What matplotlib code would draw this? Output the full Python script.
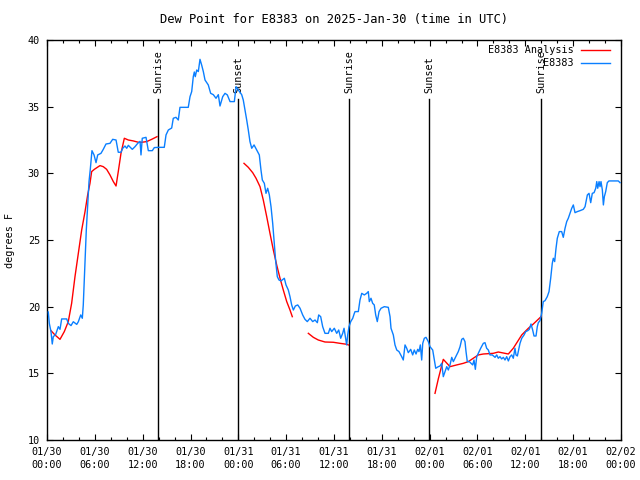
import numpy as np
import matplotlib
matplotlib.use("Agg")
import matplotlib.pyplot as plt

# hours since 2025-01-30 00:00 UTC
obs_hours = [
    0.16, 0.29, 0.50, 0.66, 0.79, 1.09, 1.42, 1.63, 1.84, 2.47, 2.67, 3.01, 3.30, 3.73, 3.93,
    4.23, 4.43, 4.55, 4.68, 4.80, 4.93, 5.11, 5.27, 5.43, 5.64, 5.90, 6.15, 6.36, 6.77, 7.06,
    7.40, 7.90, 8.24, 8.66, 8.94, 9.28, 9.50, 9.78, 10.00, 10.20, 10.45, 10.70, 11.04, 11.38,
    11.67, 11.79, 11.95, 12.42, 12.71, 13.21, 13.46, 13.96, 14.71, 14.93, 15.22, 15.64, 15.84,
    16.18, 16.47, 16.68, 17.72, 17.94, 18.15, 18.35, 18.48, 18.60, 18.78, 18.98, 19.19, 19.41,
    19.61, 19.82, 20.23, 20.53, 20.86, 21.20, 21.49, 21.70, 22.04, 22.33, 22.62, 22.96, 23.50,
    23.71, 24.00, 24.42, 24.62, 24.84, 25.05, 25.25, 25.46, 25.68, 25.97, 26.30, 26.63, 26.84,
    27.01, 27.26, 27.47, 27.68, 27.89, 28.10, 28.31, 28.51, 28.69, 28.89, 29.10, 29.35, 29.77,
    29.98, 30.27, 30.48, 30.69, 30.90, 31.15, 31.45, 31.74, 32.07, 32.36, 32.65, 32.99, 33.33,
    33.62, 33.91, 34.08, 34.33, 34.58, 34.87, 35.29, 35.50, 35.71, 36.04, 36.34, 36.59, 36.84,
    37.09, 37.26, 37.42, 37.59, 37.72, 37.88, 38.10, 38.35, 38.55, 38.64, 39.05, 39.26, 39.48,
    39.80, 40.10, 40.30, 40.43, 40.64, 40.85, 41.05, 41.23, 41.43, 41.65, 41.90, 42.31, 42.81,
    43.03, 43.15, 43.44, 43.65, 43.87, 44.15, 44.49, 44.69, 44.91, 45.12, 45.32, 45.62, 45.87,
    46.07, 46.29, 46.50, 46.66, 46.83, 47.00, 47.13, 47.33, 47.54, 47.83, 48.04, 48.38, 48.55,
    48.76, 49.09, 49.30, 49.51, 49.71, 49.93, 50.14, 50.34, 50.55, 50.77, 50.97, 51.18, 51.39,
    51.59, 51.81, 52.02, 52.22, 52.43, 52.56, 52.72, 52.97, 53.40, 53.56, 53.73, 53.90, 54.10,
    54.40, 54.73, 54.94, 55.15, 55.36, 55.57, 55.86, 56.20, 56.41, 56.61, 56.82, 57.03, 57.24,
    57.45, 57.66, 57.87, 58.08, 58.29, 58.49, 58.70, 58.83, 59.00, 59.17, 59.33, 59.55, 59.84,
    60.05, 60.30, 60.50, 60.71, 60.92, 61.09, 61.34, 61.50, 61.63, 61.84, 62.05, 62.25, 62.47,
    62.75, 62.97, 63.18, 63.38, 63.51, 63.68, 63.85, 64.01, 64.26, 64.56, 64.76, 64.98, 65.19,
    65.39, 65.60, 65.82, 66.02, 66.23, 66.52, 66.86, 67.27, 67.49, 67.61, 67.78, 67.99, 68.20,
    68.40, 68.62, 68.83, 68.96, 69.08, 69.25, 69.37, 69.49, 69.66, 69.79, 69.91, 70.08, 70.28,
    70.49, 71.66, 71.88,
]
obs_dewpt = [
    19.60, 18.75, 18.13, 17.20, 17.75, 17.92, 18.50, 18.30, 19.08, 19.08, 18.75, 18.58, 18.87, 18.67, 18.87,
    19.38, 19.13, 20.13, 22.00, 23.75, 25.75, 27.75, 29.38, 30.30, 31.70, 31.38, 30.80, 31.38, 31.50, 31.80,
    32.20, 32.25, 32.55, 32.50, 31.58, 31.58, 31.88, 32.05, 31.88, 32.10, 31.95, 31.80, 32.00, 32.25,
    32.40, 31.38, 32.63, 32.70, 31.70, 31.70, 31.93, 31.95, 31.95, 32.88, 33.25, 33.40, 34.13,
    34.20, 34.00, 34.95, 34.95, 35.75, 36.13, 37.25, 37.60, 37.25, 37.75, 37.63, 38.55, 38.10,
    37.63, 37.00, 36.63, 36.00, 35.90, 35.63, 35.90, 35.05, 35.75, 36.00, 35.88, 35.38, 35.38,
    36.50, 36.25, 35.90, 35.50, 34.75, 34.00, 33.25, 32.38, 31.88, 32.13, 31.75, 31.38, 30.25,
    29.50, 29.25, 28.50, 28.88, 28.38, 27.50, 26.25, 24.75, 23.38, 22.25, 22.00, 21.93, 22.13,
    21.63, 21.25, 20.75, 20.13, 19.75, 20.05, 20.13, 19.88, 19.38, 19.05, 18.88, 19.13, 18.88,
    19.00, 18.80, 19.38, 19.25, 18.50, 18.00, 18.00, 18.38, 18.13, 18.38, 18.00, 18.25, 17.63,
    18.00, 18.38, 17.75, 17.13, 17.88, 18.50, 18.88, 19.13, 19.50, 19.63, 19.63, 20.50, 21.00,
    20.88, 21.00, 21.13, 20.38, 20.63, 20.25, 20.13, 19.38, 18.88, 19.63, 19.88, 20.00, 19.95,
    19.25, 18.38, 17.88, 17.13, 16.75, 16.63, 16.25, 16.00, 17.13, 16.88, 16.55, 16.80, 16.38,
    16.75, 16.45, 16.80, 16.63, 17.13, 16.00, 17.25, 17.63, 17.70, 17.38, 17.00, 16.75, 16.13,
    15.38, 15.50, 15.55, 15.75, 14.75, 15.13, 15.50, 15.25, 15.63, 16.20, 15.88, 16.13, 16.38,
    16.63, 17.00, 17.55, 17.63, 17.38, 16.63, 15.88, 15.88, 15.63, 16.00, 15.30, 16.25, 16.50,
    16.88, 17.25, 17.30, 16.88, 16.75, 16.38, 16.38, 16.20, 16.38, 16.13, 16.25, 16.08, 16.20,
    16.00, 16.25, 15.93, 16.25, 16.38, 16.13, 16.88, 16.38, 16.30, 16.80, 17.25, 17.63, 17.88,
    18.13, 18.20, 18.30, 18.70, 18.25, 17.80, 17.80, 18.50, 18.80, 18.95, 19.50, 20.38, 20.45,
    20.75, 21.13, 22.13, 23.25, 23.63, 23.38, 24.38, 25.13, 25.63, 25.63, 25.20, 25.88, 26.38,
    26.63, 27.00, 27.38, 27.63, 27.05, 27.13, 27.20, 27.30, 27.50, 27.88, 28.38, 28.50, 27.80,
    28.50, 28.55, 28.88, 29.38, 28.88, 29.38, 29.00, 29.38, 28.75, 27.63, 28.25, 28.63, 29.30,
    29.43, 29.43, 29.30,
]

# analysis series, None marks a gap
ana_hours = [
    0.50, 1.00, 1.63, 2.17, 2.67, 3.09, 3.51, 3.93, 4.35, 4.77, 5.10, 5.39, 5.60, 5.94, 6.44,
    6.65, 7.06, 7.48, 7.90, 8.32, 8.66, 8.94, 9.28, 9.70, 10.20, 10.83, 11.45, 11.88, 12.50,
    13.13, 13.80, None,
    24.71, 25.25, 25.80, 26.22, 26.72, 27.13, 27.56, 27.97, 28.39, 28.81, 29.23, 29.64, 30.07,
    30.48, 30.77, None,
    32.78, 33.41, 34.03, 34.87, 35.91, 36.75, 37.59, 37.80, None,
    48.67, 49.09, 49.71, 50.55, 51.39, 52.22, 52.85, 53.47, 54.10, 54.73, 55.98, 56.61, 57.87,
    58.49, 59.55, 60.38, 61.00, 61.97,
]
ana_dewpt = [
    18.20, 17.88, 17.55, 18.13, 18.88, 20.25, 22.25, 24.00, 25.75, 27.13, 28.38, 29.25, 30.13, 30.30, 30.50,
    30.58, 30.50, 30.30, 29.88, 29.38, 29.05, 30.13, 31.50, 32.63, 32.50, 32.43, 32.33, 32.33, 32.38,
    32.55, 32.75, None,
    30.75, 30.45, 30.05, 29.63, 29.00, 28.00, 26.75, 25.50, 24.25, 23.13, 22.13, 21.25, 20.38,
    19.75, 19.25, None,
    18.00, 17.70, 17.50, 17.35, 17.33, 17.25, 17.18, 17.13, None,
    13.50, 14.60, 16.05, 15.50, 15.63, 15.75, 15.88, 16.13, 16.38, 16.45, 16.50, 16.60, 16.45,
    16.88, 17.88, 18.38, 18.70, 19.25,
]

sun_hours = [13.93, 23.97, 37.92, 47.97, 61.97]
sun_labels = ["Sunrise", "Sunset", "Sunrise", "Sunset", "Sunrise"]

xtick_hours = list(range(0, 73, 6))
xtick_labels = ["01/30\n00:00", "01/30\n06:00", "01/30\n12:00", "01/30\n18:00",
                "01/31\n00:00", "01/31\n06:00", "01/31\n12:00", "01/31\n18:00",
                "02/01\n00:00", "02/01\n06:00", "02/01\n12:00", "02/01\n18:00",
                "02/02\n00:00"]

plt.rcParams['font.family'] = ['DejaVu Sans Mono']
plt.rcParams['font.size'] = 7.3

fig = plt.figure(figsize=(6.4, 4.8), dpi=100)
ax = fig.add_axes([47 / 640, 40 / 480, 574 / 640, 400 / 480])

ana_x = np.array([np.nan if v is None else v for v in ana_hours], dtype=float)
ana_y = np.array([np.nan if v is None else v for v in ana_dewpt], dtype=float)

for h, lab in zip(sun_hours, sun_labels):
    ax.plot([h, h], [0, 0.8525], color='black', lw=1.0,
            transform=ax.get_xaxis_transform(), zorder=1)
    ax.text(h, 0.868, lab, rotation=90, ha='center', va='bottom',
            transform=ax.get_xaxis_transform())

ax.plot(ana_x, ana_y, color='#ff0000', lw=1.0, zorder=2)
ax.plot(obs_hours, obs_dewpt, color='#0a7fff', lw=1.0, zorder=3)

# gnuplot-style key, text right-justified, sample on the right
for ypos, lab, col in [(0.975, "E8383 Analysis", '#ff0000'), (0.9425, "E8383", '#0a7fff')]:
    ax.text(0.918, ypos, lab, ha='right', va='center', transform=ax.transAxes)
    ax.plot([0.930, 0.981], [ypos, ypos], color=col, lw=1.0, transform=ax.transAxes)

ax.set_xlim(0, 72)
ax.set_ylim(10, 40)
ax.set_xticks(xtick_hours)
ax.set_xticklabels(xtick_labels, linespacing=1.35)
ax.set_xticks(range(0, 73, 2), minor=True)
ax.set_yticks(range(10, 41, 5))
ax.tick_params(which='both', direction='in', top=True, right=True, pad=5)
ax.tick_params(which='major', length=4.5, width=0.8)
ax.tick_params(which='minor', length=2.2, width=0.8)
for s in ax.spines.values():
    s.set_linewidth(1.0)

ax.set_ylabel("degrees F", labelpad=9)
ax.set_title("Dew Point for E8383 on 2025-Jan-30 (time in UTC)", pad=12)

fig.savefig("out.png", dpi=100)
